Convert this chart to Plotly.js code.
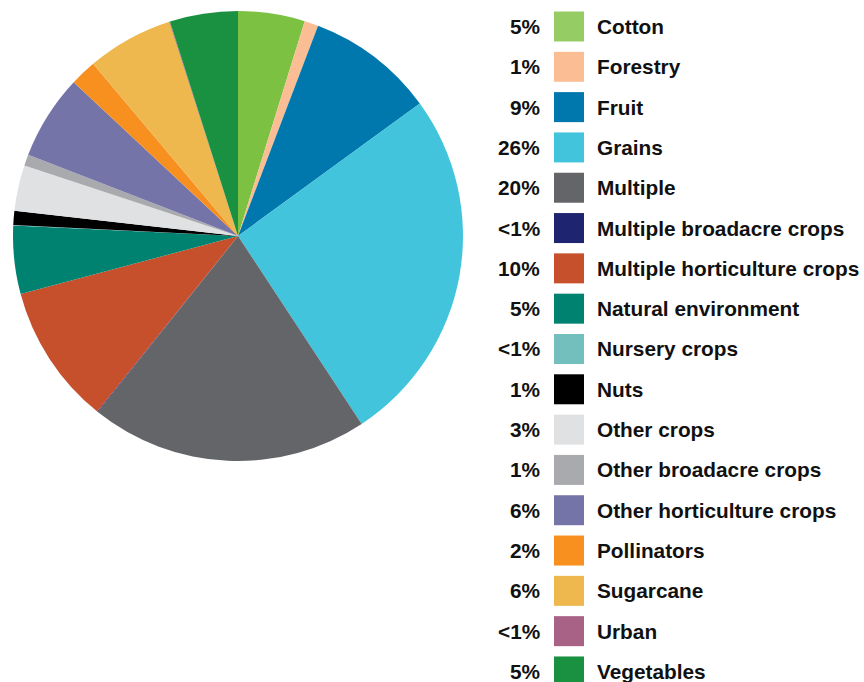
<!DOCTYPE html>
<html>
<head>
<meta charset="utf-8">
<script src="https://cdn.plot.ly/plotly-3.0.1.min.js"></script>
<style>html,body{margin:0;padding:0;background:#fff;}#chart{width:864px;height:682px;}</style>
</head>
<body>
<div id="chart"></div>
<script>
const categories = ["Cotton","Forestry","Fruit","Grains","Multiple","Multiple broadacre crops","Multiple horticulture crops","Natural environment","Nursery crops","Nuts","Other crops","Other broadacre crops","Other horticulture crops","Pollinators","Sugarcane","Urban","Vegetables"];
const values = [4.8, 1.0, 9.2, 25.8, 20.0, 0.05, 10.1, 4.9, 0.05, 1.0, 3.3, 0.8, 6.1, 1.9, 6.2, 0.05, 4.9];
const pctLabels = ["5%","1%","9%","26%","20%","<1%","10%","5%","<1%","1%","3%","1%","6%","2%","6%","<1%","5%"];
const sliceColors = ["#7cc142","#fbbe94","#0077ad","#42c4dc","#646568","#1f2470","#c7502c","#008270","#72bfbe","#000000","#e0e1e3","#a9aaae","#7574a8","#f7901e","#efb84f","#a86286","#1a9140"];
const swatchColors = ["#96cc64","#fbbe94","#0077ad","#42c4dc","#646568","#1f2470","#c7502c","#008270","#72bfbe","#000000","#e0e1e3","#a9aaae","#7574a8","#f7901e","#efb84f","#a86286","#1a9140"];

const W = 864, H = 682;
const font = {family: "'Liberation Sans', Arial, Helvetica, sans-serif", size: 20.8, color: "#111111"};

const trace = {
  type: "pie",
  labels: categories,
  values: values,
  sort: false,
  direction: "clockwise",
  rotation: 0,
  textinfo: "none",
  hoverinfo: "label+percent",
  marker: {colors: sliceColors, line: {width: 0}},
  domain: {x: [13/W, 463/W], y: [1 - 461/H, 1 - 11/H]},
  showlegend: false
};

const shapes = [];
const annotations = [];
const row0 = 26.5, step = 40.31;
categories.forEach((c, i) => {
  const yc = row0 + i * step;
  shapes.push({type: "rect", xref: "paper", yref: "paper",
    x0: 554/W, x1: 584/W, y0: 1 - (yc + 15)/H, y1: 1 - (yc - 15)/H,
    fillcolor: swatchColors[i], line: {width: 0}});
  annotations.push({xref: "paper", yref: "paper", x: 542/W, y: 1 - yc/H,
    xanchor: "right", yanchor: "middle", showarrow: false,
    text: "<b>" + pctLabels[i] + "</b>", font: font});
  annotations.push({xref: "paper", yref: "paper", x: 595/W, y: 1 - yc/H,
    xanchor: "left", yanchor: "middle", showarrow: false,
    text: "<b>" + c + "</b>", font: font});
});

const layout = {
  width: W, height: H,
  margin: {l: 0, r: 0, t: 0, b: 0},
  paper_bgcolor: "#ffffff",
  showlegend: false,
  shapes: shapes,
  annotations: annotations
};

Plotly.newPlot("chart", [trace], layout, {displayModeBar: false, staticPlot: true});
</script>
</body>
</html>
